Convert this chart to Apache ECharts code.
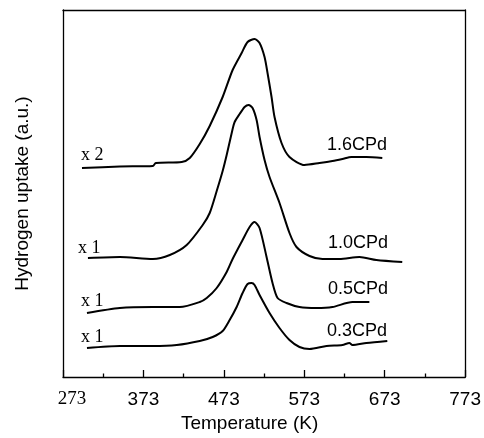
<!DOCTYPE html>
<html>
<head>
<meta charset="utf-8">
<script src="https://cdn.jsdelivr.net/npm/echarts@6/dist/echarts.min.js"></script>
<style>
html,body{margin:0;padding:0;background:#fff;}
#chart{width:484px;height:438px;}
</style>
</head>
<body>
<div id="chart"></div>
<script>
// Temperature (K) tick labels
var xTicks = [273, 373, 473, 573, 673, 773];

// 1.6CPd (x 2)
var t16 = [296.6, 343.7, 384.7, 388.4, 420.6, 430.6, 443.0, 455.4, 471.5, 483.9, 495.1, 502.5, 511.2, 517.4, 523.6, 527.3, 532.3, 536.0, 544.7, 554.6, 573.2, 591.9, 608.0, 620.4, 631.6, 650.2, 670.0];
var h16 = [209, 210.5, 211, 214, 215, 219, 233, 251, 280, 307, 324, 335, 338, 334, 320, 304, 280, 260, 234, 220, 212, 214, 216, 218, 220, 220, 219];

// 1.0CPd (x 1)
var t10 = [304.0, 343.7, 384.7, 405.8, 426.8, 446.7, 455.4, 464.1, 471.5, 476.5, 483.9, 486.4, 492.6, 498.8, 503.8, 508.7, 513.7, 517.4, 523.6, 529.8, 542.2, 554.6, 563.3, 579.5, 595.6, 616.7, 641.5, 662.6, 694.8];
var h10 = [119, 120, 118, 122, 132, 152, 164, 186, 206, 222, 248, 255, 263, 270, 272, 269, 257, 240, 217, 200, 174, 144, 130, 121, 118, 118, 120, 117, 115];

// 0.5CPd (x 1)
var t05 = [302.8, 343.7, 384.7, 418.2, 443.0, 451.7, 464.1, 476.5, 483.9, 496.3, 505.0, 511.2, 517.4, 526.1, 533.5, 539.8, 550.9, 567.0, 588.1, 608.0, 632.8, 653.9];
var h05 = [64, 69, 70, 70, 75, 79, 89, 105, 118, 137, 150, 155, 149, 120, 94, 79, 74, 70, 69, 70, 75, 75];

// 0.3CPd (x 1)
var t03 = [302.8, 343.7, 384.7, 414.4, 443.0, 459.1, 471.5, 480.2, 488.9, 496.3, 502.5, 507.5, 511.2, 517.4, 529.8, 542.2, 554.6, 567.0, 579.5, 600.6, 620.4, 629.1, 632.8, 650.2, 676.2];
var h03 = [29, 31, 31, 32, 36, 40, 46, 57, 70, 84, 93, 94, 92, 82, 64, 49, 37, 30, 28, 31, 32, 34, 32, 34, 36];

var seriesNames = ['1.6CPd', '1.0CPd', '0.5CPd', '0.3CPd'];
var factors = ['x 2', 'x 1', 'x 1', 'x 1'];

function zip(a, b) { return a.map(function (v, i) { return [v, b[i]]; }); }
var all = [[t16, h16], [t10, h10], [t05, h05], [t03, h03]];

var chart = echarts.init(document.getElementById('chart'), null, {renderer: 'canvas'});
var sans = '"Liberation Sans", Arial, Helvetica, sans-serif';
var serif = '"Liberation Serif", "Times New Roman", serif';

var series = all.map(function (d, i) {
  return {
    name: seriesNames[i], type: 'line', data: zip(d[0], d[1]),
    showSymbol: false, smooth: 0.25, silent: true,
    lineStyle: {color: '#000', width: 2}
  };
});

// text annotations
var nameLabelPos = [[357, 145], [358, 243], [358, 289], [357, 331]];
var factorPos = [[81, 155], [78, 248], [81, 301], [81, 337]];
var graphics = [];
seriesNames.forEach(function (n, i) {
  graphics.push({type: 'text', style: {x: nameLabelPos[i][0], y: nameLabelPos[i][1], text: n,
    font: '18px ' + sans, fill: '#000', textAlign: 'center', textVerticalAlign: 'middle'}});
  graphics.push({type: 'text', style: {x: factorPos[i][0], y: factorPos[i][1], text: factors[i],
    font: '18px ' + serif, fill: '#000', textAlign: 'left', textVerticalAlign: 'middle'}});
});

chart.setOption({
  animation: false,
  backgroundColor: '#fff',
  grid: {left: 63, right: 18, top: 10, bottom: 61, containLabel: false},
  xAxis: [{
    type: 'value', min: xTicks[0], max: xTicks[xTicks.length - 1], interval: 100,
    name: 'Temperature (K)', nameLocation: 'middle', nameGap: 28,
    nameTextStyle: {fontFamily: sans, fontSize: 19, color: '#000', padding: [0, 29, 0, 0]},
    axisLine: {show: true, onZero: false, lineStyle: {color: '#000', width: 1.3}},
    axisTick: {show: true, inside: true, length: 7, lineStyle: {color: '#000', width: 1.3}},
    minorTick: {show: true, splitNumber: 2, length: 3.5, lineStyle: {color: '#000', width: 1.3}},
    splitLine: {show: false},
    axisLabel: {
      margin: 13, fontFamily: sans, fontSize: 19, color: '#000', showMinLabel: true, showMaxLabel: true,
      formatter: function (v) { return v === xTicks[0] ? '{s|' + v + '}' : String(v); },
      rich: {s: {fontFamily: serif, fontSize: 19, color: '#000', padding: [0, 0, 0, 18]}}
    }
  }, {
    type: 'value', position: 'top', min: xTicks[0], max: xTicks[xTicks.length - 1],
    axisLine: {show: true, onZero: false, lineStyle: {color: '#000', width: 1.3}},
    axisTick: {show: false}, axisLabel: {show: false}, splitLine: {show: false}
  }],
  yAxis: [{
    type: 'value', min: 0, max: 367,
    name: 'Hydrogen uptake (a.u.)', nameLocation: 'middle', nameGap: 31,
    nameTextStyle: {fontFamily: sans, fontSize: 19, color: '#000'},
    axisLine: {show: true, onZero: false, lineStyle: {color: '#000', width: 1.3}},
    axisTick: {show: false}, axisLabel: {show: false}, splitLine: {show: false}
  }, {
    type: 'value', position: 'right', min: 0, max: 367,
    axisLine: {show: true, onZero: false, lineStyle: {color: '#000', width: 1.3}},
    axisTick: {show: false}, axisLabel: {show: false}, splitLine: {show: false}
  }],
  graphic: graphics,
  series: series
});
</script>
</body>
</html>
